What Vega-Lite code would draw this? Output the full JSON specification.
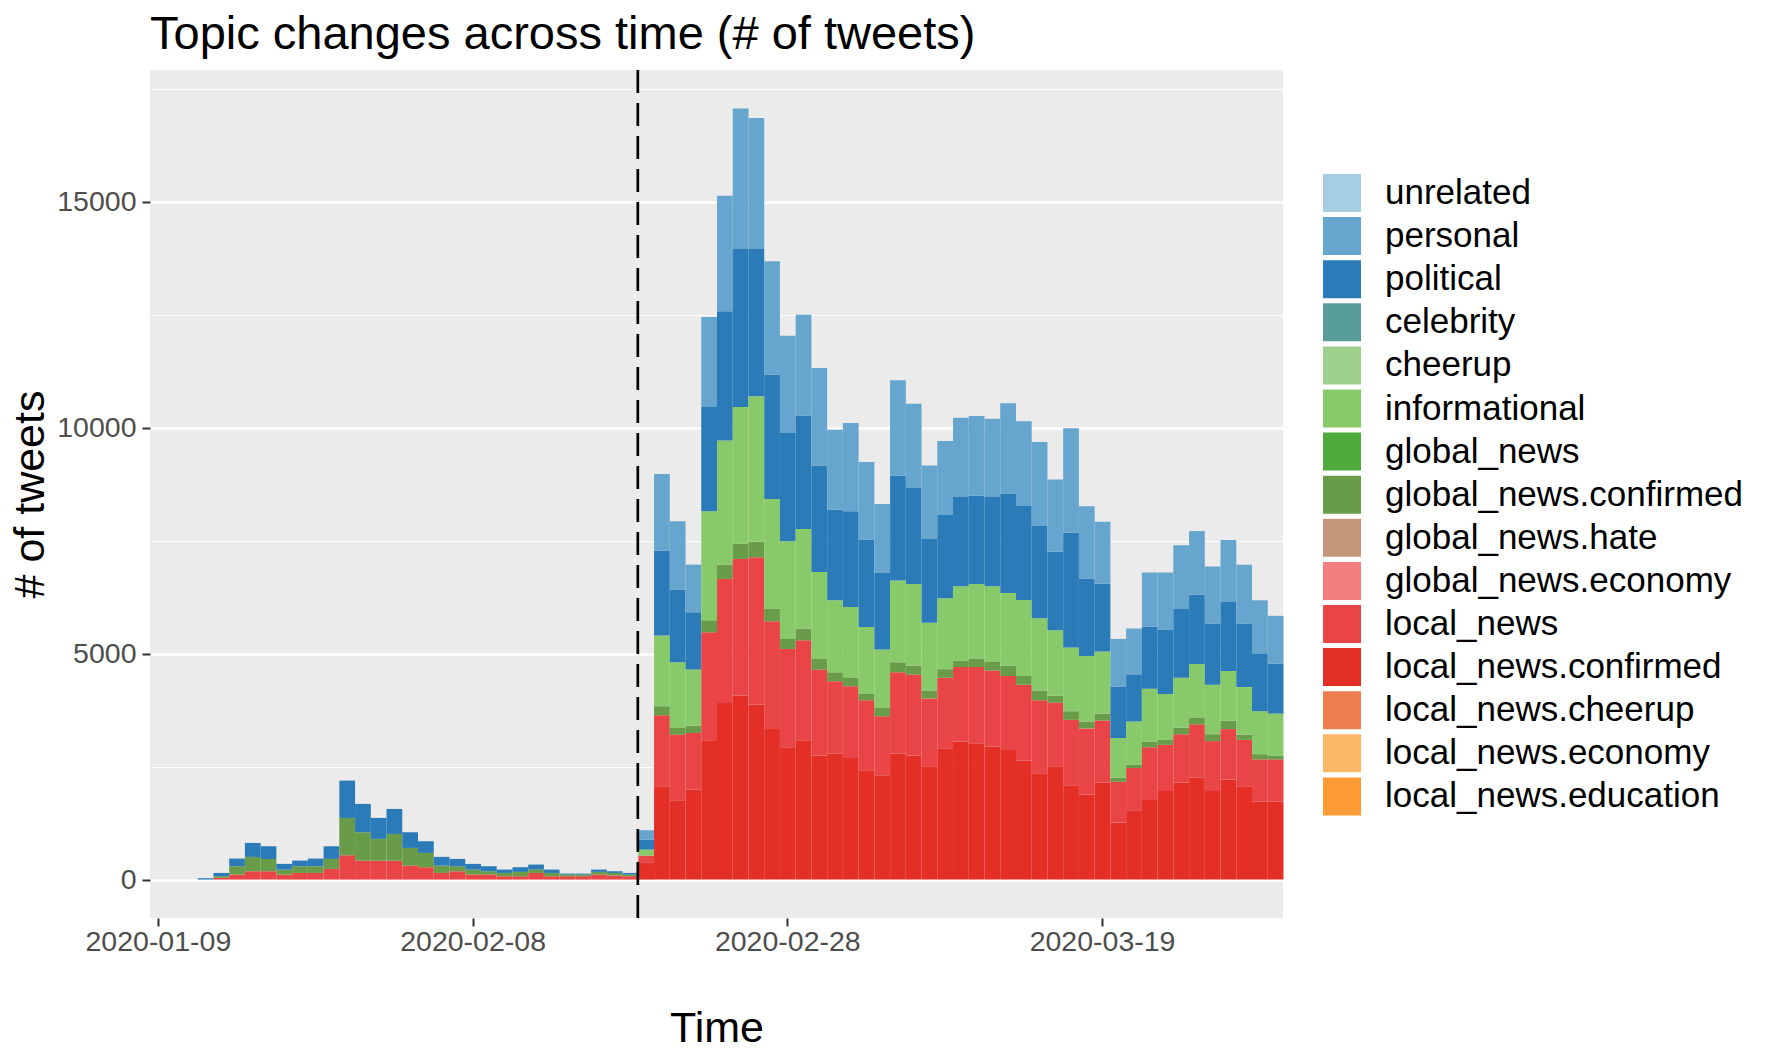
{
  "$schema": "https://vega.github.io/schema/vega-lite/v6.json",
  "width": 1133,
  "height": 848,
  "autosize": {"type": "none"},
  "padding": {"left": 150, "top": 70, "right": 489, "bottom": 145},
  "background": "#FFFFFF",
  "config": {
    "font": "Liberation Sans",
    "view": {"fill": "#EBEBEB", "stroke": null}
  },
  "title": {"text": "Topic changes across time (# of tweets)", "anchor": "start", "frame": "group", "fontSize": 47, "fontWeight": "normal", "color": "#000000", "offset": 10},
  "data": {"values": [
    {"d":"2020-01-22","t":"political","n":30},
    {"d":"2020-01-23","t":"local_news","n":37},{"d":"2020-01-23","t":"global_news.confirmed","n":37},{"d":"2020-01-23","t":"political","n":73},
    {"d":"2020-01-24","t":"local_news","n":111},{"d":"2020-01-24","t":"global_news.confirmed","n":184},{"d":"2020-01-24","t":"political","n":170},
    {"d":"2020-01-25","t":"local_news","n":184},{"d":"2020-01-25","t":"global_news.confirmed","n":318},{"d":"2020-01-25","t":"political","n":309},
    {"d":"2020-01-26","t":"local_news","n":184},{"d":"2020-01-26","t":"global_news.confirmed","n":273},{"d":"2020-01-26","t":"political","n":280},
    {"d":"2020-01-27","t":"local_news","n":111},{"d":"2020-01-27","t":"global_news.confirmed","n":110},{"d":"2020-01-27","t":"political","n":126},
    {"d":"2020-01-28","t":"local_news","n":147},{"d":"2020-01-28","t":"global_news.confirmed","n":148},{"d":"2020-01-28","t":"political","n":125},
    {"d":"2020-01-29","t":"local_news","n":147},{"d":"2020-01-29","t":"global_news.confirmed","n":148},{"d":"2020-01-29","t":"political","n":170},
    {"d":"2020-01-30","t":"local_news","n":236},{"d":"2020-01-30","t":"global_news.confirmed","n":221},{"d":"2020-01-30","t":"political","n":280},
    {"d":"2020-01-31","t":"local_news","n":538},{"d":"2020-01-31","t":"global_news.confirmed","n":826},{"d":"2020-01-31","t":"political","n":826},
    {"d":"2020-02-01","t":"local_news","n":420},{"d":"2020-02-01","t":"global_news.confirmed","n":627},{"d":"2020-02-01","t":"political","n":627},
    {"d":"2020-02-02","t":"local_news","n":420},{"d":"2020-02-02","t":"global_news.confirmed","n":480},{"d":"2020-02-02","t":"political","n":464},
    {"d":"2020-02-03","t":"local_news","n":420},{"d":"2020-02-03","t":"global_news.confirmed","n":590},{"d":"2020-02-03","t":"political","n":553},
    {"d":"2020-02-04","t":"local_news","n":310},{"d":"2020-02-04","t":"global_news.confirmed","n":390},{"d":"2020-02-04","t":"political","n":347},
    {"d":"2020-02-05","t":"local_news","n":273},{"d":"2020-02-05","t":"global_news.confirmed","n":317},{"d":"2020-02-05","t":"political","n":258},
    {"d":"2020-02-06","t":"local_news","n":147},{"d":"2020-02-06","t":"global_news.confirmed","n":163},{"d":"2020-02-06","t":"political","n":192},
    {"d":"2020-02-07","t":"local_news","n":184},{"d":"2020-02-07","t":"global_news.confirmed","n":111},{"d":"2020-02-07","t":"political","n":162},
    {"d":"2020-02-08","t":"local_news","n":111},{"d":"2020-02-08","t":"global_news.confirmed","n":110},{"d":"2020-02-08","t":"political","n":126},
    {"d":"2020-02-09","t":"local_news","n":111},{"d":"2020-02-09","t":"global_news.confirmed","n":73},{"d":"2020-02-09","t":"political","n":111},
    {"d":"2020-02-10","t":"local_news","n":74},{"d":"2020-02-10","t":"global_news.confirmed","n":73},{"d":"2020-02-10","t":"political","n":74},
    {"d":"2020-02-11","t":"local_news","n":74},{"d":"2020-02-11","t":"global_news.confirmed","n":96},{"d":"2020-02-11","t":"political","n":103},
    {"d":"2020-02-12","t":"local_news","n":147},{"d":"2020-02-12","t":"global_news.confirmed","n":74},{"d":"2020-02-12","t":"political","n":111},
    {"d":"2020-02-13","t":"local_news","n":74},{"d":"2020-02-13","t":"global_news.confirmed","n":73},{"d":"2020-02-13","t":"political","n":74},
    {"d":"2020-02-14","t":"local_news","n":74},{"d":"2020-02-14","t":"global_news.confirmed","n":37},{"d":"2020-02-14","t":"political","n":22},
    {"d":"2020-02-15","t":"local_news","n":74},{"d":"2020-02-15","t":"global_news.confirmed","n":37},{"d":"2020-02-15","t":"political","n":22},
    {"d":"2020-02-16","t":"local_news","n":111},{"d":"2020-02-16","t":"global_news.confirmed","n":59},{"d":"2020-02-16","t":"political","n":51},
    {"d":"2020-02-17","t":"local_news","n":88},{"d":"2020-02-17","t":"global_news.confirmed","n":59},{"d":"2020-02-17","t":"political","n":37},
    {"d":"2020-02-18","t":"local_news","n":74},{"d":"2020-02-18","t":"global_news.confirmed","n":37},{"d":"2020-02-18","t":"political","n":36},
    {"d":"2020-02-19","t":"local_news.confirmed","n":383},{"d":"2020-02-19","t":"local_news","n":148},{"d":"2020-02-19","t":"informational","n":133},{"d":"2020-02-19","t":"political","n":221},{"d":"2020-02-19","t":"personal","n":206},
    {"d":"2020-02-20","t":"local_news.confirmed","n":2064},{"d":"2020-02-20","t":"local_news","n":1571},{"d":"2020-02-20","t":"global_news.confirmed","n":199},{"d":"2020-02-20","t":"informational","n":1563},{"d":"2020-02-20","t":"political","n":1880},{"d":"2020-02-20","t":"personal","n":1697},
    {"d":"2020-02-21","t":"local_news.confirmed","n":1755},{"d":"2020-02-21","t":"local_news","n":1452},{"d":"2020-02-21","t":"global_news.confirmed","n":148},{"d":"2020-02-21","t":"informational","n":1452},{"d":"2020-02-21","t":"political","n":1608},{"d":"2020-02-21","t":"personal","n":1511},
    {"d":"2020-02-22","t":"local_news.confirmed","n":1991},{"d":"2020-02-22","t":"local_news","n":1253},{"d":"2020-02-22","t":"global_news.confirmed","n":162},{"d":"2020-02-22","t":"informational","n":1239},{"d":"2020-02-22","t":"political","n":1268},{"d":"2020-02-22","t":"personal","n":1055},
    {"d":"2020-02-23","t":"local_news.confirmed","n":3082},{"d":"2020-02-23","t":"local_news","n":2389},{"d":"2020-02-23","t":"global_news.confirmed","n":266},{"d":"2020-02-23","t":"informational","n":2410},{"d":"2020-02-23","t":"political","n":2308},{"d":"2020-02-23","t":"personal","n":1991},
    {"d":"2020-02-24","t":"local_news.confirmed","n":3908},{"d":"2020-02-24","t":"local_news","n":2743},{"d":"2020-02-24","t":"global_news.confirmed","n":317},{"d":"2020-02-24","t":"informational","n":2743},{"d":"2020-02-24","t":"political","n":2861},{"d":"2020-02-24","t":"personal","n":2558},
    {"d":"2020-02-25","t":"local_news.confirmed","n":4070},{"d":"2020-02-25","t":"local_news","n":3023},{"d":"2020-02-25","t":"global_news.confirmed","n":339},{"d":"2020-02-25","t":"informational","n":3023},{"d":"2020-02-25","t":"political","n":3495},{"d":"2020-02-25","t":"personal","n":3106},
    {"d":"2020-02-26","t":"local_news.confirmed","n":3871},{"d":"2020-02-26","t":"local_news","n":3259},{"d":"2020-02-26","t":"global_news.confirmed","n":347},{"d":"2020-02-26","t":"informational","n":3214},{"d":"2020-02-26","t":"political","n":3259},{"d":"2020-02-26","t":"personal","n":2898},
    {"d":"2020-02-27","t":"local_news.confirmed","n":3333},{"d":"2020-02-27","t":"local_news","n":2381},{"d":"2020-02-27","t":"global_news.confirmed","n":273},{"d":"2020-02-27","t":"informational","n":2433},{"d":"2020-02-27","t":"political","n":2751},{"d":"2020-02-27","t":"personal","n":2507},
    {"d":"2020-02-28","t":"local_news.confirmed","n":2927},{"d":"2020-02-28","t":"local_news","n":2175},{"d":"2020-02-28","t":"global_news.confirmed","n":222},{"d":"2020-02-28","t":"informational","n":2160},{"d":"2020-02-28","t":"political","n":2396},{"d":"2020-02-28","t":"personal","n":2153},
    {"d":"2020-02-29","t":"local_news.confirmed","n":3082},{"d":"2020-02-29","t":"local_news","n":2212},{"d":"2020-02-29","t":"global_news.confirmed","n":258},{"d":"2020-02-29","t":"informational","n":2205},{"d":"2020-02-29","t":"political","n":2507},{"d":"2020-02-29","t":"personal","n":2234},
    {"d":"2020-03-01","t":"local_news.confirmed","n":2743},{"d":"2020-03-01","t":"local_news","n":1902},{"d":"2020-03-01","t":"global_news.confirmed","n":236},{"d":"2020-03-01","t":"informational","n":1925},{"d":"2020-03-01","t":"political","n":2352},{"d":"2020-03-01","t":"personal","n":2160},
    {"d":"2020-03-02","t":"local_news.confirmed","n":2787},{"d":"2020-03-02","t":"local_news","n":1600},{"d":"2020-03-02","t":"global_news.confirmed","n":199},{"d":"2020-03-02","t":"informational","n":1593},{"d":"2020-03-02","t":"political","n":2005},{"d":"2020-03-02","t":"personal","n":1770},
    {"d":"2020-03-03","t":"local_news.confirmed","n":2691},{"d":"2020-03-03","t":"local_news","n":1586},{"d":"2020-03-03","t":"global_news.confirmed","n":184},{"d":"2020-03-03","t":"informational","n":1570},{"d":"2020-03-03","t":"political","n":2116},{"d":"2020-03-03","t":"personal","n":1955},
    {"d":"2020-03-04","t":"local_news.confirmed","n":2419},{"d":"2020-03-04","t":"local_news","n":1548},{"d":"2020-03-04","t":"global_news.confirmed","n":140},{"d":"2020-03-04","t":"informational","n":1482},{"d":"2020-03-04","t":"political","n":1932},{"d":"2020-03-04","t":"personal","n":1718},
    {"d":"2020-03-05","t":"local_news.confirmed","n":2308},{"d":"2020-03-05","t":"local_news","n":1305},{"d":"2020-03-05","t":"global_news.confirmed","n":184},{"d":"2020-03-05","t":"informational","n":1291},{"d":"2020-03-05","t":"political","n":1696},{"d":"2020-03-05","t":"personal","n":1526},
    {"d":"2020-03-06","t":"local_news.confirmed","n":2787},{"d":"2020-03-06","t":"local_news","n":1799},{"d":"2020-03-06","t":"global_news.confirmed","n":221},{"d":"2020-03-06","t":"informational","n":1807},{"d":"2020-03-06","t":"political","n":2322},{"d":"2020-03-06","t":"personal","n":2109},
    {"d":"2020-03-07","t":"local_news.confirmed","n":2743},{"d":"2020-03-07","t":"local_news","n":1792},{"d":"2020-03-07","t":"global_news.confirmed","n":199},{"d":"2020-03-07","t":"informational","n":1806},{"d":"2020-03-07","t":"political","n":2124},{"d":"2020-03-07","t":"personal","n":1865},
    {"d":"2020-03-08","t":"local_news.confirmed","n":2506},{"d":"2020-03-08","t":"local_news","n":1502},{"d":"2020-03-08","t":"global_news.confirmed","n":175},{"d":"2020-03-08","t":"informational","n":1500},{"d":"2020-03-08","t":"political","n":1851},{"d":"2020-03-08","t":"personal","n":1624},
    {"d":"2020-03-09","t":"local_news.confirmed","n":2903},{"d":"2020-03-09","t":"local_news","n":1562},{"d":"2020-03-09","t":"global_news.confirmed","n":190},{"d":"2020-03-09","t":"informational","n":1569},{"d":"2020-03-09","t":"political","n":1843},{"d":"2020-03-09","t":"personal","n":1638},
    {"d":"2020-03-10","t":"local_news.confirmed","n":3055},{"d":"2020-03-10","t":"local_news","n":1646},{"d":"2020-03-10","t":"global_news.confirmed","n":144},{"d":"2020-03-10","t":"informational","n":1646},{"d":"2020-03-10","t":"political","n":1972},{"d":"2020-03-10","t":"personal","n":1752},
    {"d":"2020-03-11","t":"local_news.confirmed","n":3017},{"d":"2020-03-11","t":"local_news","n":1684},{"d":"2020-03-11","t":"global_news.confirmed","n":190},{"d":"2020-03-11","t":"informational","n":1646},{"d":"2020-03-11","t":"political","n":1957},{"d":"2020-03-11","t":"personal","n":1759},
    {"d":"2020-03-12","t":"local_news.confirmed","n":2942},{"d":"2020-03-12","t":"local_news","n":1683},{"d":"2020-03-12","t":"global_news.confirmed","n":190},{"d":"2020-03-12","t":"informational","n":1676},{"d":"2020-03-12","t":"political","n":1972},{"d":"2020-03-12","t":"personal","n":1730},
    {"d":"2020-03-13","t":"local_news.confirmed","n":2865},{"d":"2020-03-13","t":"local_news","n":1638},{"d":"2020-03-13","t":"global_news.confirmed","n":228},{"d":"2020-03-13","t":"informational","n":1607},{"d":"2020-03-13","t":"political","n":2203},{"d":"2020-03-13","t":"personal","n":1995},
    {"d":"2020-03-14","t":"local_news.confirmed","n":2637},{"d":"2020-03-14","t":"local_news","n":1675},{"d":"2020-03-14","t":"global_news.confirmed","n":191},{"d":"2020-03-14","t":"informational","n":1684},{"d":"2020-03-14","t":"political","n":2079},{"d":"2020-03-14","t":"personal","n":1874},
    {"d":"2020-03-15","t":"local_news.confirmed","n":2354},{"d":"2020-03-15","t":"local_news","n":1614},{"d":"2020-03-15","t":"global_news.confirmed","n":215},{"d":"2020-03-15","t":"informational","n":1599},{"d":"2020-03-15","t":"political","n":2042},{"d":"2020-03-15","t":"personal","n":1858},
    {"d":"2020-03-16","t":"local_news.confirmed","n":2506},{"d":"2020-03-16","t":"local_news","n":1409},{"d":"2020-03-16","t":"global_news.confirmed","n":153},{"d":"2020-03-16","t":"informational","n":1449},{"d":"2020-03-16","t":"political","n":1736},{"d":"2020-03-16","t":"personal","n":1599},
    {"d":"2020-03-17","t":"local_news.confirmed","n":2088},{"d":"2020-03-17","t":"local_news","n":1447},{"d":"2020-03-17","t":"global_news.confirmed","n":190},{"d":"2020-03-17","t":"informational","n":1409},{"d":"2020-03-17","t":"political","n":2537},{"d":"2020-03-17","t":"personal","n":2316},
    {"d":"2020-03-18","t":"local_news.confirmed","n":1882},{"d":"2020-03-18","t":"local_news","n":1463},{"d":"2020-03-18","t":"global_news.confirmed","n":152},{"d":"2020-03-18","t":"informational","n":1447},{"d":"2020-03-18","t":"political","n":1714},{"d":"2020-03-18","t":"personal","n":1600},
    {"d":"2020-03-19","t":"local_news.confirmed","n":2148},{"d":"2020-03-19","t":"local_news","n":1371},{"d":"2020-03-19","t":"global_news.confirmed","n":153},{"d":"2020-03-19","t":"informational","n":1371},{"d":"2020-03-19","t":"political","n":1500},{"d":"2020-03-19","t":"personal","n":1372},
    {"d":"2020-03-20","t":"local_news.confirmed","n":1265},{"d":"2020-03-20","t":"local_news","n":898},{"d":"2020-03-20","t":"global_news.confirmed","n":93},{"d":"2020-03-20","t":"informational","n":876},{"d":"2020-03-20","t":"political","n":1142},{"d":"2020-03-20","t":"personal","n":1050},
    {"d":"2020-03-21","t":"local_news.confirmed","n":1533},{"d":"2020-03-21","t":"local_news","n":936},{"d":"2020-03-21","t":"global_news.confirmed","n":77},{"d":"2020-03-21","t":"informational","n":951},{"d":"2020-03-21","t":"political","n":1044},{"d":"2020-03-21","t":"personal","n":1013},
    {"d":"2020-03-22","t":"local_news.confirmed","n":1761},{"d":"2020-03-22","t":"local_news","n":1165},{"d":"2020-03-22","t":"global_news.confirmed","n":129},{"d":"2020-03-22","t":"informational","n":1166},{"d":"2020-03-22","t":"political","n":1371},{"d":"2020-03-22","t":"personal","n":1203},
    {"d":"2020-03-23","t":"local_news.confirmed","n":1958},{"d":"2020-03-23","t":"local_news","n":1022},{"d":"2020-03-23","t":"global_news.confirmed","n":112},{"d":"2020-03-23","t":"informational","n":1014},{"d":"2020-03-23","t":"political","n":1424},{"d":"2020-03-23","t":"personal","n":1265},
    {"d":"2020-03-24","t":"local_news.confirmed","n":2148},{"d":"2020-03-24","t":"local_news","n":1068},{"d":"2020-03-24","t":"global_news.confirmed","n":144},{"d":"2020-03-24","t":"informational","n":1104},{"d":"2020-03-24","t":"political","n":1524},{"d":"2020-03-24","t":"personal","n":1409},
    {"d":"2020-03-25","t":"local_news.confirmed","n":2256},{"d":"2020-03-25","t":"local_news","n":1179},{"d":"2020-03-25","t":"global_news.confirmed","n":153},{"d":"2020-03-25","t":"informational","n":1181},{"d":"2020-03-25","t":"political","n":1531},{"d":"2020-03-25","t":"personal","n":1409},
    {"d":"2020-03-26","t":"local_news.confirmed","n":1958},{"d":"2020-03-26","t":"local_news","n":1106},{"d":"2020-03-26","t":"global_news.confirmed","n":152},{"d":"2020-03-26","t":"informational","n":1095},{"d":"2020-03-26","t":"political","n":1356},{"d":"2020-03-26","t":"personal","n":1259},
    {"d":"2020-03-27","t":"local_news.confirmed","n":2216},{"d":"2020-03-27","t":"local_news","n":1113},{"d":"2020-03-27","t":"global_news.confirmed","n":184},{"d":"2020-03-27","t":"informational","n":1104},{"d":"2020-03-27","t":"political","n":1524},{"d":"2020-03-27","t":"personal","n":1371},
    {"d":"2020-03-28","t":"local_news.confirmed","n":2066},{"d":"2020-03-28","t":"local_news","n":1026},{"d":"2020-03-28","t":"global_news.confirmed","n":115},{"d":"2020-03-28","t":"informational","n":1051},{"d":"2020-03-28","t":"political","n":1409},{"d":"2020-03-28","t":"personal","n":1296},
    {"d":"2020-03-29","t":"local_news.confirmed","n":1723},{"d":"2020-03-29","t":"local_news","n":936},{"d":"2020-03-29","t":"global_news.confirmed","n":115},{"d":"2020-03-29","t":"informational","n":951},{"d":"2020-03-29","t":"political","n":1281},{"d":"2020-03-29","t":"personal","n":1172},
    {"d":"2020-03-30","t":"local_news.confirmed","n":1723},{"d":"2020-03-30","t":"local_news","n":936},{"d":"2020-03-30","t":"global_news.confirmed","n":77},{"d":"2020-03-30","t":"informational","n":936},{"d":"2020-03-30","t":"political","n":1106},{"d":"2020-03-30","t":"personal","n":1057}
  ]},
  "layer": [
    {
      "transform": [{"calculate": "indexof(['unrelated','personal','political','celebrity','cheerup','informational','global_news','global_news.confirmed','global_news.hate','global_news.economy','local_news','local_news.confirmed','local_news.cheerup','local_news.economy','local_news.education'], datum.t)", "as": "ord"}],
      "mark": {"type": "bar", "binSpacing": 0, "strokeWidth": 0},
      "encoding": {
        "x": {
          "field": "d", "type": "temporal", "timeUnit": "utcyearmonthdate",
          "scale": {"type": "utc", "domain": [{"year": 2020, "month": 1, "date": 19, "utc": true}, {"year": 2020, "month": 3, "date": 31, "utc": true}]},
          "axis": {
            "values": [
              {"year": 2020, "month": 1, "date": 19, "hours": 12, "utc": true},
              {"year": 2020, "month": 2, "date": 8, "hours": 12, "utc": true},
              {"year": 2020, "month": 2, "date": 28, "hours": 12, "utc": true},
              {"year": 2020, "month": 3, "date": 19, "hours": 12, "utc": true}
            ],
            "labelExpr": "utcFormat(datum.value, '%m-%d') === '01-19' ? '2020-01-09' : utcFormat(datum.value, '%Y-%m-%d')",
            "title": "Time", "grid": false, "domain": false,
            "tickSize": 8, "tickWidth": 2, "tickColor": "#333333",
            "labelFontSize": 28.5, "labelColor": "#4D4D4D", "labelPadding": 1, "labelFlush": false, "labelOverlap": false, "labelBound": false,
            "titleFontSize": 43, "titleFontWeight": "normal", "titleColor": "#000000", "titlePadding": 52
          }
        },
        "y": {
          "field": "n", "type": "quantitative", "stack": "zero",
          "scale": {"domain": [-850, 17910], "nice": false, "zero": false},
          "axis": {
            "values": [0, 2500, 5000, 7500, 10000, 12500, 15000, 17500],
            "format": "d",
            "labelExpr": "datum.value % 5000 === 0 ? datum.label : ''",
            "title": "# of tweets", "domain": false, "grid": true, "gridColor": "#FFFFFF",
            "gridWidth": {"condition": {"test": "datum.value % 5000 === 0", "value": 2.3}, "value": 1.2},
            "tickSize": 8, "tickWidth": 2, "tickColor": "#333333",
            "tickOpacity": {"condition": {"test": "datum.value % 5000 === 0", "value": 1}, "value": 0},
            "labelFontSize": 28.5, "labelColor": "#4D4D4D", "labelPadding": 6, "labelOverlap": false,
            "titleFontSize": 43, "titleFontWeight": "normal", "titleColor": "#000000", "titlePadding": 4
          }
        },
        "color": {
          "field": "t", "type": "nominal",
          "scale": {
            "domain": ["unrelated","personal","political","celebrity","cheerup","informational","global_news","global_news.confirmed","global_news.hate","global_news.economy","local_news","local_news.confirmed","local_news.cheerup","local_news.economy","local_news.education"],
            "range": ["#A6CEE3","#66A5CD","#2A7BB7","#599D9B","#9ECF8D","#88CA69","#4DAA3B","#689C48","#C4977A","#F37E7E","#E94547","#E42F26","#EF7D4F","#FDB867","#FE9A34"]
          },
          "legend": {
            "title": null, "orient": "none", "legendX": 1173, "legendY": 104,
            "symbolType": "square", "symbolSize": 1444, "symbolStrokeWidth": 0, "symbolOpacity": 1,
            "labelFontSize": 35, "labelColor": "#000000", "labelOffset": 24, "rowPadding": 5.1, "padding": 0, "labelLimit": 600
          }
        },
        "order": {"field": "ord", "type": "quantitative", "sort": "descending"}
      }
    },
    {
      "data": {"values": [{}]},
      "mark": {"type": "rule", "strokeDash": [23, 10], "strokeWidth": 2.7, "color": "#000000"},
      "encoding": {
        "x": {"datum": {"year": 2020, "month": 2, "date": 19, "utc": true}, "type": "temporal"}
      }
    }
  ]
}
